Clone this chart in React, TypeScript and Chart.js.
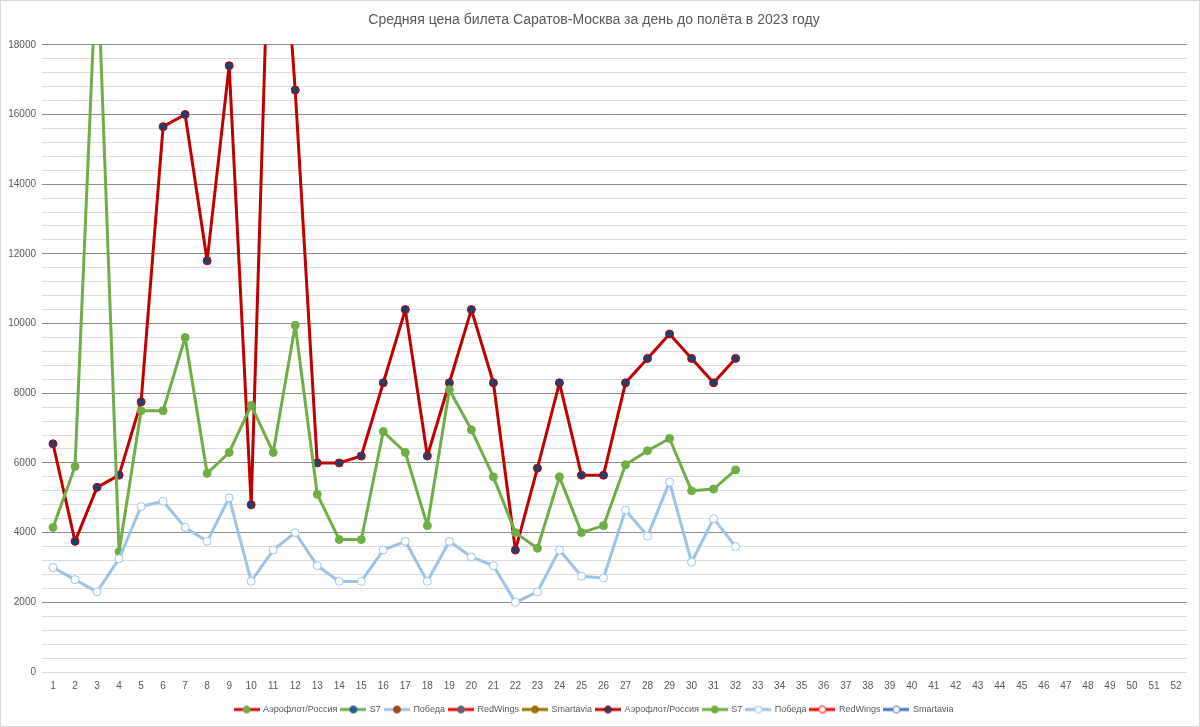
import React, { useEffect, useRef } from "react";
import { Chart, registerables } from "chart.js";

Chart.register(...registerables);

const TITLE = "Средняя цена билета Саратов-Москва за день до полёта в 2023 году";

const days: string[] = Array.from({ length: 52 }, (_, i) => String(i + 1));

const aeroflot: number[] = [6550, 3750, 5300, 5650, 7750, 15650, 16000, 11800, 17400, 4800, 25500, 16700, 6000, 6000, 6200, 8300, 10400, 6200, 8300, 10400, 8300, 3500, 5850, 8300, 5650, 5650, 8300, 9000, 9700, 9000, 8300, 9000];
const s7: number[] = [4150, 5900, 20700, 3450, 7500, 7500, 9600, 5700, 6300, 7650, 6300, 9950, 5100, 3800, 3800, 6900, 6300, 4200, 8100, 6950, 5600, 4000, 3550, 5600, 4000, 4200, 5950, 6350, 6700, 5200, 5250, 5800];
const pobeda: number[] = [3000, 2650, 2300, 3250, 4750, 4900, 4150, 3750, 5000, 2600, 3500, 4000, 3050, 2600, 2600, 3500, 3750, 2600, 3750, 3300, 3050, 2000, 2300, 3500, 2750, 2700, 4650, 3900, 5450, 3150, 4400, 3600];
const empty: number[] = [];

const seriesNames: string[] = ["Аэрофлот/Россия", "S7", "Победа", "RedWings", "Smartavia", "Аэрофлот/Россия", "S7", "Победа", "RedWings", "Smartavia"];
const seriesData: number[][] = [empty, empty, empty, empty, empty, aeroflot, s7, pobeda, empty, empty];
const lineColors: string[] = ["#E00000", "#70AD47", "#9DC3E6", "#FF0000", "#997300", "#C00000", "#70AD47", "#9DC3E6", "#FF0000", "#4472C4"];
const markerFills: string[] = ["#70AD47", "#255E91", "#9E480E", "#636363", "#997300", "#1F3F6E", "#70AD47", "#FFFFFF", "#FFFFFF", "#FFFFFF"];
const markerBorders: string[] = ["#70AD47", "#255E91", "#9E480E", "#636363", "#997300", "#C00000", "#70AD47", "#9DC3E6", "#FF0000", "#4472C4"];

const TEXT = "#595959";
const FONT = "'Liberation Sans', Arial, sans-serif";

function makeSymbol(line: string, fill: string, border: string): HTMLCanvasElement {
  const c = document.createElement("canvas");
  c.width = 26;
  c.height = 10;
  const ctx = c.getContext("2d")!;
  ctx.strokeStyle = line;
  ctx.lineWidth = 3;
  ctx.beginPath();
  ctx.moveTo(0, 5);
  ctx.lineTo(26, 5);
  ctx.stroke();
  ctx.beginPath();
  ctx.arc(13, 5, 3.5, 0, Math.PI * 2);
  ctx.fillStyle = fill;
  ctx.fill();
  ctx.lineWidth = 1;
  ctx.strokeStyle = border;
  ctx.stroke();
  return c;
}

export default function App() {
  const ref = useRef<HTMLCanvasElement | null>(null);

  useEffect(() => {
    if (!ref.current) return;
    const symbols = seriesNames.map((_, i) => makeSymbol(lineColors[i], markerFills[i], markerBorders[i]));
    const chart = new Chart(ref.current, {
      type: "line",
      data: {
        labels: days,
        datasets: seriesNames.map((name, i) => ({
          label: name,
          data: seriesData[i],
          borderColor: lineColors[i],
          backgroundColor: lineColors[i],
          borderWidth: 3,
          borderJoinStyle: "round" as const,
          borderCapStyle: "round" as const,
          pointRadius: 4,
          pointHoverRadius: 4,
          pointBorderWidth: 1,
          pointBackgroundColor: markerFills[i],
          pointBorderColor: markerBorders[i],
          tension: 0,
          fill: false,
          order: 10 - i,
        })),
      },
      options: {
        animation: false,
        responsive: false,
        maintainAspectRatio: false,
        layout: { padding: { left: 0, right: 12, top: 0, bottom: 2 } },
        plugins: {
          tooltip: { enabled: false },
          title: {
            display: true,
            text: TITLE,
            color: TEXT,
            font: { family: FONT, size: 14, weight: "normal" },
            padding: { top: 11, bottom: 16 },
          },
          legend: {
            position: "bottom",
            labels: {
              usePointStyle: true,
              pointStyleWidth: 24,
              padding: 4,
              color: TEXT,
              font: { family: FONT, size: 9 },
              generateLabels: () =>
                seriesNames.map((name, i) => ({
                  text: name,
                  pointStyle: symbols[i],
                  fillStyle: markerFills[i],
                  strokeStyle: lineColors[i],
                  lineWidth: 0,
                  hidden: false,
                  datasetIndex: i,
                  fontColor: TEXT,
                })),
            },
          },
        },
        scales: {
          x: {
            type: "category",
            offset: true,
            grid: { display: false, drawTicks: false },
            border: { display: false },
            ticks: {
              autoSkip: false,
              maxRotation: 0,
              minRotation: 0,
              padding: 8,
              color: TEXT,
              font: { family: FONT, size: 10 },
            },
            afterFit: (s: any) => {
              s.height = 29;
            },
          },
          y: {
            min: 0,
            max: 18000,
            grid: {
              drawTicks: false,
              color: (ctx: any) => {
                const v = ctx.tick ? ctx.tick.value : 0;
                return v !== 0 && v % 2000 === 0 ? "#8C8C8C" : "#DCDCDC";
              },
              lineWidth: 1,
            },
            border: { display: false },
            ticks: {
              stepSize: 400,
              maxTicksLimit: 100,
              autoSkip: false,
              padding: 6,
              color: TEXT,
              font: { family: FONT, size: 10 },
              callback: (v: any) => (Number(v) % 2000 === 0 ? String(v) : ""),
            },
            afterFit: (s: any) => {
              s.width = 41;
            },
          },
        },
      },
    });
    return () => chart.destroy();
  }, []);

  return (
    <div
      style={{
        position: "absolute",
        left: 0,
        top: 0,
        width: 1200,
        height: 727,
        boxSizing: "border-box",
        border: "1px solid #D9D9D9",
        background: "#FFFFFF",
      }}
    >
      <canvas ref={ref} width={1198} height={725} style={{ display: "block", width: 1198, height: 725 }} />
    </div>
  );
}
